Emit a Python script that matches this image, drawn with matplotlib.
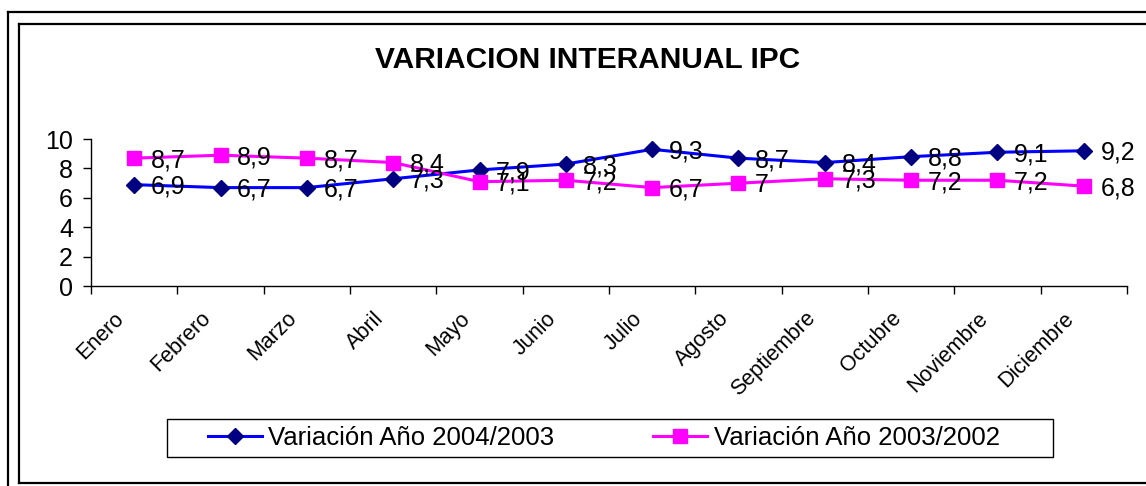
import matplotlib
matplotlib.use("Agg")
import matplotlib.pyplot as plt
from matplotlib.lines import Line2D
from matplotlib.patches import Rectangle
from matplotlib.transforms import ScaledTranslation, blended_transform_factory

months = ["Enero", "Febrero", "Marzo", "Abril", "Mayo", "Junio", "Julio",
          "Agosto", "Septiembre", "Octubre", "Noviembre", "Diciembre"]
var_2004_2003 = [6.9, 6.7, 6.7, 7.3, 7.9, 8.3, 9.3, 8.7, 8.4, 8.8, 9.1, 9.2]
var_2003_2002 = [8.7, 8.9, 8.7, 8.4, 7.1, 7.2, 6.7, 7.0, 7.3, 7.2, 7.2, 6.8]
series_names = ["Variación Año 2004/2003", "Variación Año 2003/2002"]
title = "VARIACION INTERANUAL IPC"
yticks = [0, 2, 4, 6, 8, 10]

plt.rcParams['font.family'] = ['Liberation Sans', 'DejaVu Sans']

W, H = 1146, 486
fig = plt.figure(figsize=(W / 100, H / 100), dpi=100)
fig.patch.set_facecolor("white")

# frames (figure pixel coords)
def px_line(xs, ys, **kw):
    fig.add_artist(Line2D([x / W for x in xs], [1 - y / H for y in ys],
                          transform=fig.transFigure, **kw))

px_line([8, 1146], [12, 12], color="black", lw=1.6)
px_line([8, 8], [12, 486], color="black", lw=1.6)
px_line([19, 1146], [24, 24], color="black", lw=1.6)
px_line([19, 19], [24, 483], color="black", lw=1.6)
px_line([19, 1146], [483, 483], color="black", lw=1.6)

ax = fig.add_axes([91 / W, 1 - 286.3 / H, (1127 - 91) / W, (286.3 - 139) / H])
x = list(range(len(months)))

def fmt(v):
    s = ("%.1f" % v).rstrip("0").rstrip(".")
    return s.replace(".", ",")

l1, = ax.plot(x, var_2004_2003, color="#0000FF", lw=2.2, marker="D",
              markersize=8.5, markerfacecolor="#000080", markeredgecolor="#000080",
              clip_on=False, zorder=3)
l2, = ax.plot(x, var_2003_2002, color="#FF00FF", lw=2.2, marker="s",
              markersize=10, markerfacecolor="#FF00FF", markeredgecolor="#FF00FF",
              clip_on=False, zorder=3)

for xs, ys in ((x, var_2004_2003), (x, var_2003_2002)):
    for xi, yi in zip(xs, ys):
        ax.annotate(fmt(yi), (xi, yi), xytext=(12, -1.5), textcoords="offset points",
                    ha="left", va="center", fontsize=18, color="black", zorder=4)

ax.set_xlim(-0.5, len(months) - 0.5)
ax.set_ylim(0, 10)
ax.set_yticks(yticks)
ax.set_yticklabels([str(t) for t in yticks], fontsize=18)
ax.set_xticks([i - 0.5 for i in range(len(months) + 1)])
ax.set_xticklabels([])
ax.tick_params(axis="x", which="major", length=6, width=1, direction="out")
ax.tick_params(axis="y", length=6, width=1, direction="out", pad=7)
for s in ("top", "right"):
    ax.spines[s].set_visible(False)
ax.spines["left"].set_linewidth(1)
ax.spines["bottom"].set_linewidth(1)
ax.set_facecolor("white")

# rotated category labels, text end near the category centre
btrans = blended_transform_factory(ax.transData, ax.transAxes)
off = ScaledTranslation(-13 / 100, -29 / 100, fig.dpi_scale_trans)
for xi, m in zip(x, months):
    ax.text(xi, 0, m, transform=btrans + off, rotation=45, ha="right",
            va="center", rotation_mode="anchor", fontsize=15.5, clip_on=False)

fig.text(588 / W, 1 - 60 / H, title, ha="center", va="center",
         fontsize=21.5, fontweight="bold")

# legend box
fig.add_artist(Rectangle((167 / W, 1 - 457 / H), (1053 - 167) / W, (457 - 419) / H,
                         transform=fig.transFigure, facecolor="white",
                         edgecolor="black", lw=1, zorder=1))
leg = fig.legend([l1, l2], series_names, loc="center left",
                 bbox_to_anchor=(208 / W, 1 - 438 / H), ncol=2, fontsize=18.5,
                 frameon=False, handlelength=2.1, columnspacing=3.85,
                 handletextpad=0.25, borderpad=0, borderaxespad=0)
leg.set_zorder(2)

fig.savefig("out.png", dpi=100, facecolor="white")
